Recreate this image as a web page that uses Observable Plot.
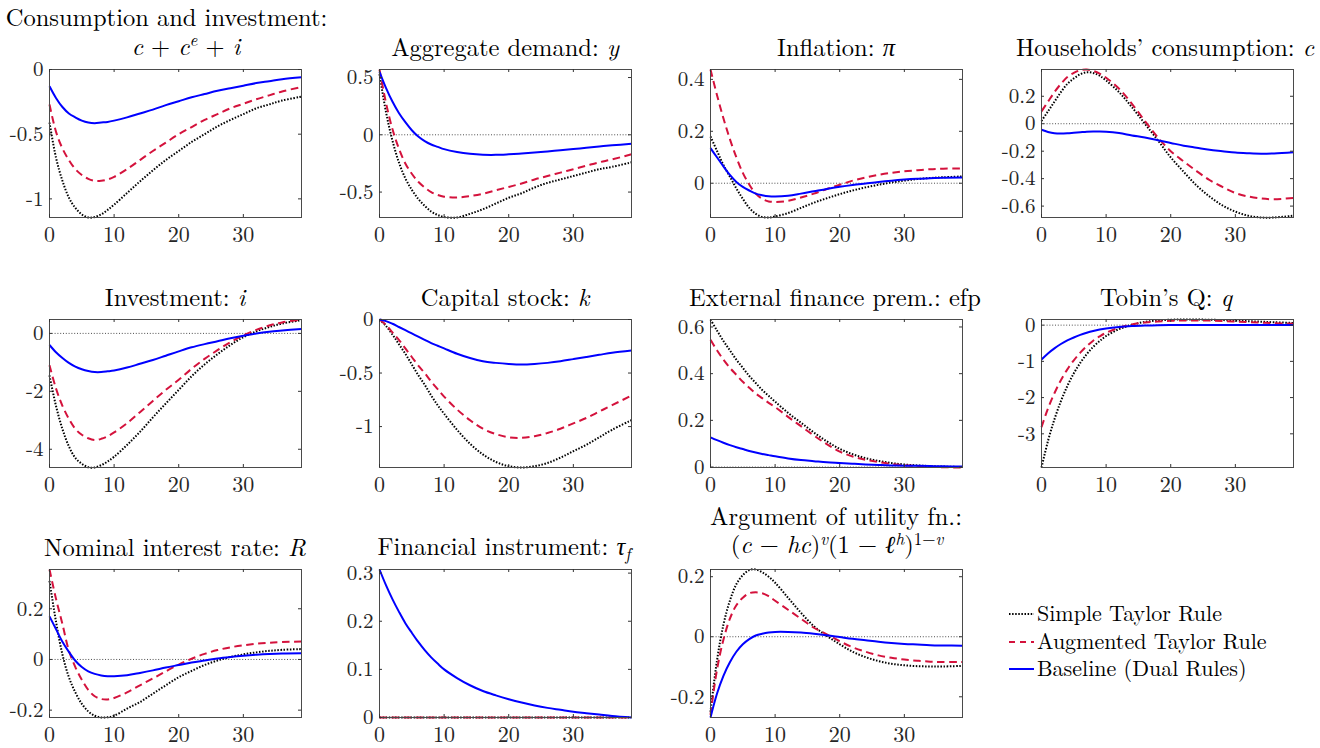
<!DOCTYPE html>
<html><head><meta charset="utf-8">
<script src="https://cdn.jsdelivr.net/npm/d3@7"></script>
<script src="https://cdn.jsdelivr.net/npm/@observablehq/plot@0.6"></script>
<style>
body{margin:0;background:#fff;}
#fig{position:relative;width:1320px;height:748px;overflow:hidden;background:#fff;}
#fig, #fig *{font-family:"Latin Modern Roman","Liberation Serif","Times New Roman",serif !important;}
.panel{position:absolute;}
#overlay{position:absolute;left:0;top:0;pointer-events:none;overflow:visible;}
</style>
</head><body><div id="fig"></div>
<script>
// horizon (quarters)
const t = [0,1,2,3,4,5,6,7,8,9,10,12,14,16,18,20,22,24,26,28,30,32,34,36,39];
const xTicks = [0,10,20,30];
const seriesNames = ["Simple Taylor Rule","Augmented Taylor Rule","Baseline (Dual Rules)"];

// Consumption and investment: c + c^e + i
const ciSimple = [-0.41,-0.68,-0.86,-0.99,-1.07,-1.12,-1.144,-1.14,-1.12,-1.085,-1.045,-0.955,-0.865,-0.78,-0.70,-0.63,-0.56,-0.50,-0.44,-0.39,-0.345,-0.30,-0.27,-0.24,-0.21];
const ciAug    = [-0.27,-0.48,-0.61,-0.70,-0.77,-0.815,-0.845,-0.86,-0.86,-0.85,-0.83,-0.77,-0.70,-0.63,-0.565,-0.50,-0.445,-0.39,-0.345,-0.30,-0.265,-0.23,-0.20,-0.17,-0.135];
const ciBase   = [-0.13,-0.22,-0.29,-0.34,-0.37,-0.395,-0.41,-0.415,-0.41,-0.405,-0.395,-0.37,-0.34,-0.31,-0.275,-0.245,-0.215,-0.19,-0.165,-0.145,-0.125,-0.105,-0.09,-0.075,-0.06];
const ciTicks  = [-1,-0.5,0];

// Aggregate demand: y
const ySimple = [0.53,0.2,-0.05,-0.24,-0.38,-0.48,-0.56,-0.62,-0.67,-0.70,-0.718,-0.722,-0.69,-0.65,-0.60,-0.55,-0.51,-0.46,-0.42,-0.39,-0.36,-0.33,-0.30,-0.28,-0.24];
const yAug    = [0.57,0.28,0.05,-0.12,-0.25,-0.34,-0.41,-0.46,-0.50,-0.525,-0.54,-0.547,-0.535,-0.515,-0.485,-0.455,-0.425,-0.39,-0.36,-0.33,-0.30,-0.27,-0.24,-0.215,-0.17];
const yBase   = [0.55,0.41,0.29,0.19,0.11,0.04,-0.015,-0.055,-0.085,-0.105,-0.125,-0.15,-0.166,-0.174,-0.175,-0.17,-0.163,-0.155,-0.145,-0.135,-0.125,-0.113,-0.102,-0.092,-0.078];
const yTicks  = [-0.5,0,0.5];

// Inflation: pi
const piSimple = [0.18,0.125,0.07,0.025,-0.02,-0.06,-0.095,-0.118,-0.13,-0.132,-0.128,-0.115,-0.095,-0.075,-0.058,-0.042,-0.028,-0.016,-0.006,0.003,0.01,0.016,0.02,0.023,0.026];
const piAug    = [0.438,0.34,0.25,0.17,0.10,0.04,-0.005,-0.04,-0.06,-0.07,-0.072,-0.068,-0.055,-0.04,-0.022,-0.006,0.01,0.022,0.032,0.04,0.046,0.05,0.054,0.056,0.057];
const piBase   = [0.135,0.10,0.065,0.032,0.005,-0.014,-0.028,-0.04,-0.046,-0.05,-0.051,-0.048,-0.04,-0.031,-0.022,-0.014,-0.007,-0.001,0.005,0.01,0.014,0.017,0.019,0.021,0.022];
const piTicks  = [0,0.2,0.4];

// Households' consumption: c
const cSimple = [0.02,0.09,0.16,0.23,0.29,0.33,0.36,0.375,0.37,0.35,0.315,0.23,0.12,0.0,-0.12,-0.245,-0.35,-0.45,-0.53,-0.595,-0.64,-0.67,-0.683,-0.683,-0.67];
const cAug    = [0.09,0.16,0.23,0.29,0.34,0.37,0.39,0.395,0.385,0.365,0.335,0.255,0.145,0.02,-0.1,-0.2,-0.275,-0.345,-0.41,-0.46,-0.505,-0.53,-0.545,-0.55,-0.54];
const cBase   = [-0.044,-0.06,-0.07,-0.072,-0.07,-0.066,-0.062,-0.058,-0.056,-0.056,-0.058,-0.068,-0.085,-0.1,-0.12,-0.14,-0.16,-0.175,-0.19,-0.2,-0.21,-0.215,-0.218,-0.216,-0.208];
const cTicks  = [-0.6,-0.4,-0.2,0,0.2];

// Investment: i
const iSimple = [-1.45,-2.5,-3.3,-3.9,-4.3,-4.5,-4.62,-4.63,-4.55,-4.42,-4.26,-3.85,-3.4,-2.9,-2.42,-1.95,-1.48,-1.07,-0.72,-0.4,-0.13,0.07,0.22,0.34,0.46];
const iAug    = [-1.1,-1.9,-2.5,-2.95,-3.3,-3.5,-3.62,-3.68,-3.64,-3.55,-3.42,-3.1,-2.72,-2.33,-1.95,-1.6,-1.22,-0.88,-0.58,-0.3,-0.07,0.12,0.27,0.38,0.48];
const iBase   = [-0.4,-0.65,-0.85,-1.02,-1.15,-1.24,-1.3,-1.335,-1.335,-1.31,-1.28,-1.18,-1.05,-0.92,-0.77,-0.62,-0.48,-0.37,-0.27,-0.17,-0.08,0.0,0.06,0.1,0.15];
const iTicks  = [-4,-2,0];

// Capital stock: k
const kSimple = [0,-0.06,-0.14,-0.23,-0.32,-0.42,-0.52,-0.61,-0.71,-0.80,-0.88,-1.03,-1.16,-1.26,-1.33,-1.37,-1.382,-1.37,-1.34,-1.29,-1.23,-1.17,-1.10,-1.03,-0.94];
const kAug    = [0,-0.05,-0.12,-0.19,-0.27,-0.35,-0.43,-0.5,-0.58,-0.65,-0.72,-0.84,-0.94,-1.02,-1.07,-1.1,-1.105,-1.09,-1.06,-1.02,-0.97,-0.92,-0.86,-0.8,-0.71];
const kBase   = [0,-0.015,-0.04,-0.07,-0.1,-0.13,-0.16,-0.19,-0.22,-0.245,-0.27,-0.32,-0.36,-0.39,-0.405,-0.415,-0.42,-0.415,-0.405,-0.39,-0.37,-0.35,-0.33,-0.31,-0.29];
const kTicks  = [-1,-0.5,0];

// External finance premium: efp
const efpSimple = [0.632,0.585,0.54,0.5,0.46,0.425,0.39,0.36,0.33,0.305,0.28,0.232,0.19,0.148,0.11,0.078,0.055,0.038,0.026,0.017,0.011,0.007,0.004,0.002,0];
const efpAug    = [0.545,0.5,0.46,0.425,0.395,0.365,0.34,0.315,0.295,0.275,0.257,0.215,0.175,0.135,0.098,0.066,0.045,0.031,0.021,0.013,0.008,0.004,0.001,-0.001,-0.002];
const efpBase   = [0.127,0.115,0.104,0.094,0.085,0.077,0.069,0.062,0.056,0.051,0.046,0.037,0.03,0.025,0.02,0.017,0.014,0.011,0.009,0.007,0.006,0.005,0.004,0.003,0.002];
const efpTicks  = [0,0.2,0.4,0.6];

// Tobin's Q: q
const qSimple = [-3.93,-3.2,-2.6,-2.1,-1.68,-1.33,-1.04,-0.8,-0.6,-0.44,-0.3,-0.11,0.01,0.09,0.13,0.15,0.156,0.155,0.15,0.14,0.125,0.11,0.095,0.08,0.06];
const qAug    = [-2.82,-2.3,-1.88,-1.52,-1.22,-0.97,-0.76,-0.58,-0.43,-0.31,-0.21,-0.07,0.02,0.07,0.1,0.12,0.13,0.13,0.125,0.115,0.1,0.085,0.07,0.055,0.04];
const qBase   = [-0.95,-0.78,-0.64,-0.52,-0.42,-0.34,-0.27,-0.21,-0.16,-0.12,-0.09,-0.05,-0.025,-0.01,0,0.003,0.003,0.003,0.003,0.002,0.002,0.002,0.001,0.001,0.001];
const qTicks  = [-3,-2,-1,0];

// Nominal interest rate: R
const rSimple = [0.31,0.15,0.02,-0.07,-0.13,-0.175,-0.205,-0.222,-0.229,-0.228,-0.222,-0.194,-0.168,-0.135,-0.102,-0.07,-0.045,-0.022,-0.004,0.01,0.02,0.028,0.034,0.038,0.041];
const rAug    = [0.355,0.24,0.14,0.035,-0.03,-0.08,-0.12,-0.145,-0.156,-0.158,-0.152,-0.13,-0.102,-0.075,-0.047,-0.02,0.003,0.022,0.037,0.048,0.056,0.062,0.066,0.069,0.071];
const rBase   = [0.17,0.12,0.07,0.03,-0.005,-0.03,-0.047,-0.057,-0.063,-0.066,-0.066,-0.062,-0.053,-0.043,-0.032,-0.022,-0.012,-0.004,0.004,0.01,0.015,0.019,0.022,0.024,0.025];
const rTicks  = [-0.2,0,0.2];

// Financial instrument: tau_f
const tauSimple = [0,0,0,0,0,0,0,0,0,0,0,0,0,0,0,0,0,0,0,0,0,0,0,0,0];
const tauAug    = [0,0,0,0,0,0,0,0,0,0,0,0,0,0,0,0,0,0,0,0,0,0,0,0,0];
const tauBase   = [0.3075,0.275,0.246,0.22,0.196,0.176,0.157,0.14,0.125,0.112,0.1,0.082,0.067,0.055,0.046,0.038,0.031,0.025,0.02,0.016,0.012,0.009,0.006,0.003,0];
const tauTicks  = [0,0.1,0.2,0.3];

// Argument of utility function
const uSimple = [-0.25,-0.08,0.04,0.12,0.175,0.205,0.222,0.224,0.215,0.2,0.18,0.13,0.08,0.035,0.003,-0.025,-0.05,-0.068,-0.081,-0.09,-0.095,-0.098,-0.099,-0.099,-0.097];
const uAug    = [-0.26,-0.11,-0.01,0.06,0.105,0.13,0.145,0.148,0.145,0.135,0.12,0.09,0.06,0.03,0.008,-0.015,-0.035,-0.05,-0.062,-0.07,-0.076,-0.08,-0.083,-0.084,-0.084];
const uBase   = [-0.269,-0.19,-0.13,-0.085,-0.05,-0.025,-0.008,0.004,0.01,0.014,0.016,0.016,0.014,0.01,0.005,-0.001,-0.007,-0.012,-0.017,-0.021,-0.024,-0.026,-0.028,-0.029,-0.03];
const uTicks  = [-0.2,0,0.2];

const styles = [
  {stroke:"#000000", strokeWidth:2, strokeDasharray:"1.5,1.6", strokeLinecap:"butt"},
  {stroke:"#d4123c", strokeWidth:2, strokeDasharray:"7.5,4.5", strokeLinecap:"butt"},
  {stroke:"#0000ff", strokeWidth:2, strokeLinecap:"butt"}
];

const panels = [
  {vals:[ciSimple,ciAug,ciBase], ticks:ciTicks, col:0, row:0},
  {vals:[ySimple,yAug,yBase], ticks:yTicks, col:1, row:0},
  {vals:[piSimple,piAug,piBase], ticks:piTicks, col:2, row:0},
  {vals:[cSimple,cAug,cBase], ticks:cTicks, col:3, row:0},
  {vals:[iSimple,iAug,iBase], ticks:iTicks, col:0, row:1},
  {vals:[kSimple,kAug,kBase], ticks:kTicks, col:1, row:1},
  {vals:[efpSimple,efpAug,efpBase], ticks:efpTicks, col:2, row:1},
  {vals:[qSimple,qAug,qBase], ticks:qTicks, col:3, row:1},
  {vals:[rSimple,rAug,rBase], ticks:rTicks, col:0, row:2},
  {vals:[tauSimple,tauAug,tauBase], ticks:tauTicks, col:1, row:2},
  {vals:[uSimple,uAug,uBase], ticks:uTicks, col:2, row:2}
];

const I = s => `<tspan font-style="italic">${s}</tspan>`;
const titles = [
  {h:"Consumption and investment:", x:166.5, b:26},
  {h:`${I("c")} + ${I("c")}<tspan font-style="italic" font-size="17" dy="-9">e</tspan><tspan dy="9"> + </tspan>${I("i")}`, x:186, b:55},
  {h:`Aggregate demand: ${I("y")}`, x:505, b:56},
  {h:`Inflation: ${I("π")}`, x:836, b:56},
  {h:`Households’ consumption: ${I("c")}`, x:1165, b:56},
  {h:`Investment: ${I("i")}`, x:175, b:306},
  {h:`Capital stock: ${I("k")}`, x:505, b:306},
  {h:"External finance prem.: efp", x:835, b:306},
  {h:`Tobin’s Q: ${I("q")}`, x:1166, b:306},
  {h:`Nominal interest rate: ${I("R")}`, x:175, b:556},
  {h:`Financial instrument: ${I("τ")}<tspan font-style="italic" font-size="17" dy="5">f</tspan>`, x:504, b:555},
  {h:"Argument of utility fn.:", x:836, b:525},
  {h:`(${I("c")} − ${I("hc")})<tspan font-style="italic" font-size="17" dy="-8">v</tspan><tspan dy="8">(1 − </tspan>${I("ℓ")}<tspan font-style="italic" font-size="17" dy="-8">h</tspan><tspan dy="8">)</tspan><tspan font-size="17" dy="-8">1−</tspan><tspan font-size="17" font-style="italic">v</tspan>`, x:837, b:553}
];

const colLeft = [49,379,710,1041];
const rowTop = [69,319,569];
const W = 252, H = 148;
const ml = 60, mr = 10, mt = 6, mb = 30;
const fmt = d => String(d);
const FONT = "'Latin Modern Roman','Liberation Serif','Times New Roman',serif";

const fig = document.getElementById("fig");

for (const p of panels) {
  const data = [];
  p.vals.forEach((arr, si) => arr.forEach((v, j) => data.push({t: t[j], v, s: si})));
  const ydom = d3.extent(p.vals.flat().concat([0]));
  const svg = Plot.plot({
    width: W + ml + mr, height: H + mt + mb,
    marginLeft: ml, marginRight: mr, marginTop: mt, marginBottom: mb,
    x: {domain: [0, 39]},
    y: {domain: ydom},
    style: {fontFamily: FONT, fontSize: "21px", color: "#262626", background: "transparent", overflow: "visible"},
    marks: [
      Plot.ruleY([0], {stroke: "#222", strokeWidth: 0.8, strokeDasharray: "1,1.8"}),
      ...[0,1,2].map(si => Plot.line(data.filter(d => d.s === si), {x: "t", y: "v", curve: "catmull-rom", ...styles[si]})),
      Plot.frame({stroke: "#4a4a4a", strokeWidth: 1}),
      Plot.tickY(p.ticks, {y: d => d, insetRight: W - 3, stroke: "#333"}),
      Plot.tickY(p.ticks, {y: d => d, insetLeft: W - 3, stroke: "#333"}),
      Plot.tickX(xTicks, {x: d => d, insetTop: H - 3, stroke: "#333"}),
      Plot.tickX(xTicks, {x: d => d, insetBottom: H - 3, stroke: "#333"}),
      Plot.axisX({ticks: xTicks, tickSize: 0, tickPadding: 9, tickFormat: fmt, label: null, fontSize: 22}),
      Plot.axisY({ticks: p.ticks, tickSize: 0, tickPadding: 6, tickFormat: fmt, label: null, fontSize: 21})
    ]
  });
  svg.classList.add("panel");
  svg.style.left = (colLeft[p.col] - ml) + "px";
  svg.style.top = (rowTop[p.row] - mt) + "px";
  svg.querySelectorAll("text").forEach(e => e.style.fontFamily = FONT);
  fig.appendChild(svg);
}

// titles and legend overlay
const ov = d3.select(fig).append("svg").attr("id", "overlay").attr("width", 1320).attr("height", 748);
for (const tt of titles) {
  const el = ov.append("text")
    .attr("x", tt.x).attr("y", tt.b)
    .attr("text-anchor", "middle")
    .attr("font-size", 24.5)
    .attr("fill", "#000")
    .style("font-family", FONT);
  el.node().innerHTML = tt.h;
}

const legLineY = [614, 642, 669];
const legBase = [621, 649, 676];
seriesNames.forEach((name, i) => {
  const s = styles[i];
  ov.append("line")
    .attr("x1", 1009).attr("x2", 1034).attr("y1", legLineY[i]).attr("y2", legLineY[i])
    .attr("stroke", s.stroke).attr("stroke-width", s.strokeWidth)
    .attr("stroke-dasharray", i === 1 ? "6,5" : (s.strokeDasharray || null));
  ov.append("text")
    .attr("x", 1037).attr("y", legBase[i])
    .attr("font-size", 22).attr("fill", "#000")
    .style("font-family", FONT)
    .text(name);
});
</script>
</body></html>
